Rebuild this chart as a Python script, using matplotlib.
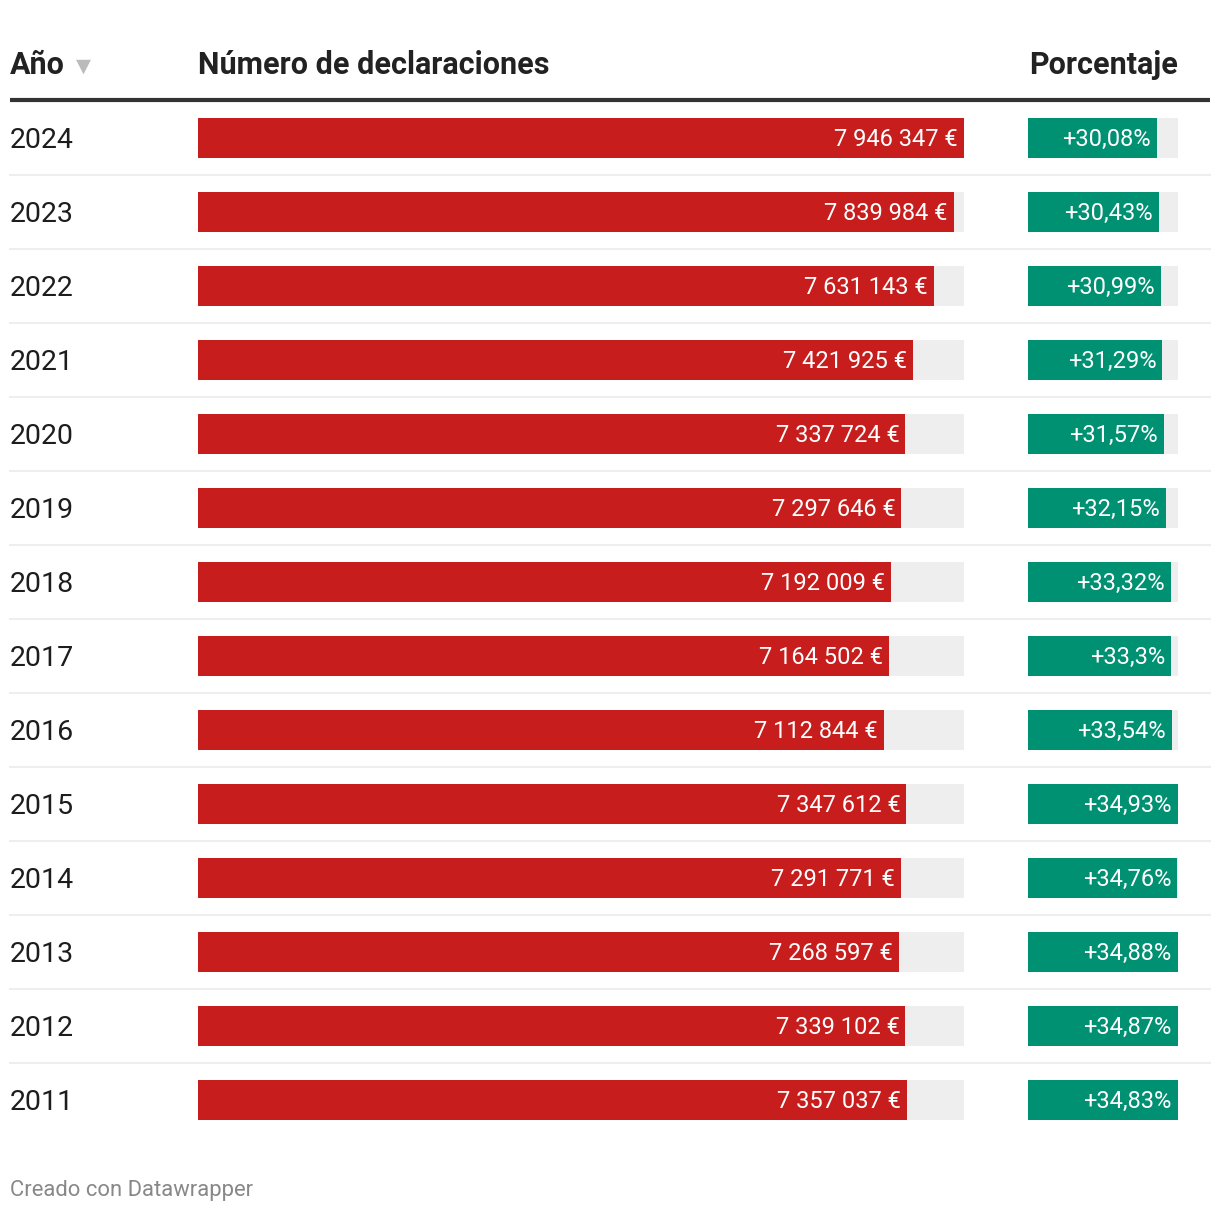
import matplotlib
matplotlib.use("Agg")
from matplotlib import pyplot as plt

plt.rcParams['font.family'] = ['Roboto', 'DejaVu Sans']

# data
years = [2024, 2023, 2022, 2021, 2020, 2019, 2018, 2017, 2016, 2015, 2014, 2013, 2012, 2011]
declarations = [7946347, 7839984, 7631143, 7421925, 7337724, 7297646, 7192009,
                7164502, 7112844, 7347612, 7291771, 7268597, 7339102, 7357037]
percentages = [30.08, 30.43, 30.99, 31.29, 31.57, 32.15, 33.32,
               33.3, 33.54, 34.93, 34.76, 34.88, 34.87, 34.83]

RED = '#c71e1d'
GREEN = '#009072'
GREY_BG = '#eeeeee'
TEXT = '#1d1d1d'

W, H = 1220, 1212
fig = plt.figure(figsize=(W / 100, H / 100), dpi=100)

# overlay axes in pixel coordinates for text and rules
ax = fig.add_axes([0, 0, 1, 1])
ax.set_xlim(0, W)
ax.set_ylim(H, 0)
ax.axis('off')

row_top, row_h = 101, 74
n = len(years)


def fig_rect(x0, x1):
    y0 = row_top
    y1 = row_top + row_h * n
    return [x0 / W, 1 - y1 / H, (x1 - x0) / W, (y1 - y0) / H]


# header
ax.text(10, 74, 'Año', fontsize=22, fontweight='bold', color='#222222', va='baseline')
ax.text(76, 72, '▼', fontsize=14, color='#bbbbbb', va='baseline', family=['DejaVu Sans'])
ax.text(198, 74, 'Número de declaraciones', fontsize=22, fontweight='bold',
        color='#222222', va='baseline')
ax.text(1178, 74, 'Porcentaje', fontsize=22, fontweight='bold', color='#222222',
        va='baseline', ha='right')
ax.plot([10, 1210], [100, 100], color='#333333', lw=3, solid_capstyle='butt')

# row separators and year labels
for i, yr in enumerate(years):
    cy = row_top + row_h * i + row_h / 2
    ax.text(10, cy + 10, str(yr), fontsize=20.5, color=TEXT, va='baseline')
    if i < n - 1:
        ys = row_top + row_h * (i + 1)
        ax.plot([10, 1210], [ys, ys], color='#eeeeee', lw=1.5)

ax.text(10, 1196, 'Creado con Datawrapper', fontsize=15.8, color='#888888', va='baseline')

bar_h = 40 / row_h
rows = list(range(n))

# declarations bars
ax1 = fig.add_axes(fig_rect(198, 964))
ax1.set_xlim(0, max(declarations))
ax1.set_ylim(n - 0.5, -0.5)
ax1.axis('off')
ax1.barh(rows, [max(declarations)] * n, height=bar_h, color=GREY_BG)
ax1.barh(rows, declarations, height=bar_h, color=RED)
for i, v in enumerate(declarations):
    label = f'{v:,}'.replace(',', ' ') + ' €'
    ax1.annotate(label, (v, i), xytext=(-6, -8), textcoords='offset pixels',
                 ha='right', va='baseline', fontsize=17, color='white')

# percentage bars
ax2 = fig.add_axes(fig_rect(1028, 1178))
pmax = max(percentages)
ax2.set_xlim(0, pmax)
ax2.set_ylim(n - 0.5, -0.5)
ax2.axis('off')
ax2.barh(rows, [pmax] * n, height=bar_h, color=GREY_BG)
ax2.barh(rows, percentages, height=bar_h, color=GREEN)
for i, p in enumerate(percentages):
    label = '+' + str(p).replace('.', ',') + '%'
    ax2.annotate(label, (p, i), xytext=(-6, -8), textcoords='offset pixels',
                 ha='right', va='baseline', fontsize=17, color='white')

fig.savefig('out.png', dpi=100)
